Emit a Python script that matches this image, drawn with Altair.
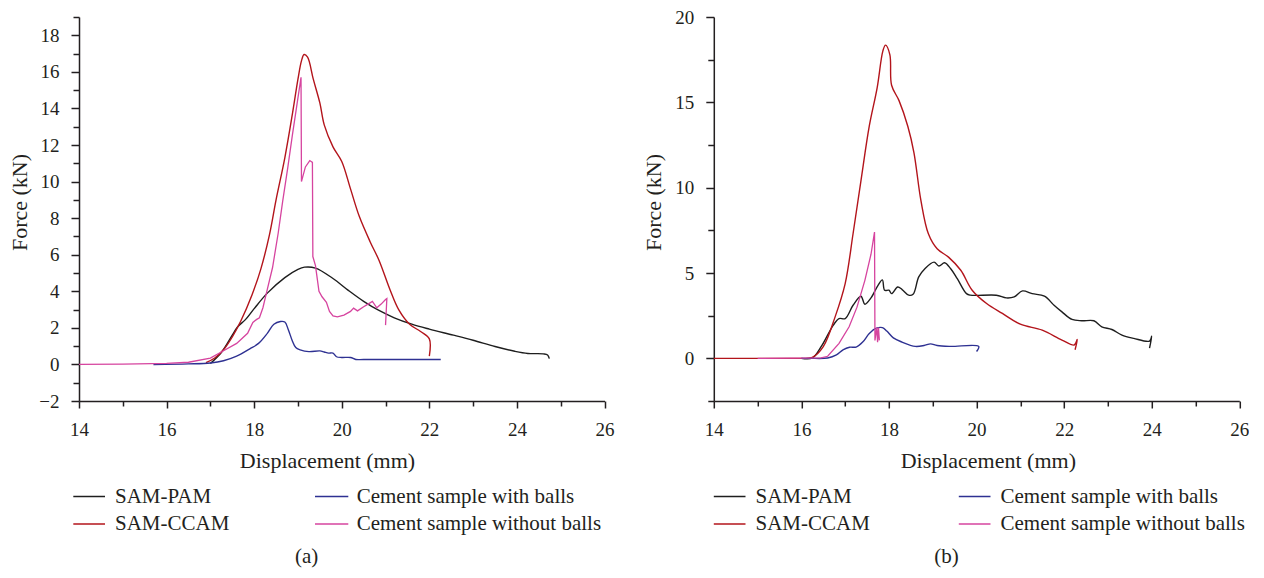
import altair as alt
import pandas as pd

SERIES = ["SAM-PAM", "SAM-CCAM", "Cement sample with balls", "Cement sample without balls"]
COLORS = ["#1e1e1e", "#b3141b", "#2e3192", "#d6449f"]
SMOOTH = ["SAM-PAM", "SAM-CCAM", "Cement sample with balls"]

# ---------- panel (a) ----------
A_PAM_X = [17.0, 17.25, 17.5, 17.62, 17.8, 18.0, 18.3, 18.7, 19.0, 19.15, 19.4, 19.8, 20.15, 20.5,
           20.85, 21.2, 21.6, 22.0, 22.55, 23.0, 23.5, 23.95, 24.25, 24.6, 24.7, 24.74]
A_PAM_Y = [0.05, 0.65, 1.6, 2.05, 2.45, 3.05, 3.9, 4.75, 5.2, 5.32, 5.27, 4.7, 4.05, 3.45,
           2.95, 2.55, 2.2, 1.93, 1.6, 1.32, 0.98, 0.72, 0.6, 0.58, 0.52, 0.32]

A_CCAM_X = [16.9, 17.1, 17.3, 17.5, 17.7, 17.95, 18.15, 18.35, 18.5, 18.7, 18.88, 19.0, 19.08, 19.14,
            19.22, 19.35, 19.5, 19.6, 19.8, 20.0, 20.2, 20.4, 20.65, 20.85, 21.1, 21.3, 21.55, 21.8,
            22.0, 22.0]
A_CCAM_Y = [0.1, 0.35, 0.8, 1.5, 2.4, 3.8, 5.2, 7.1, 9.0, 11.3, 13.8, 15.6, 16.6, 16.95,
            16.8, 15.6, 14.3, 13.1, 11.9, 11.1, 9.6, 8.1, 6.7, 5.7, 4.1, 3.0, 2.2, 1.8,
            1.4, 0.45]

A_W_X = [15.7, 16.5, 17.0, 17.3, 17.6, 17.9, 18.1, 18.3, 18.45, 18.6, 18.7, 18.78, 18.87, 18.95,
         19.05, 19.25, 19.5, 19.6, 19.7, 19.8, 19.88, 20.0, 20.2, 20.32, 20.5, 22.26]
A_W_Y = [0.0, 0.03, 0.08, 0.2, 0.45, 0.85, 1.15, 1.7, 2.2, 2.35, 2.32, 1.9, 1.3, 0.92,
         0.8, 0.7, 0.74, 0.68, 0.62, 0.62, 0.42, 0.38, 0.38, 0.27, 0.27, 0.27]

A_WO_X = [14.0, 15.0, 16.0, 16.5, 17.0, 17.3, 17.6, 17.85, 17.97, 18.05, 18.12, 18.2, 18.3, 18.42,
          18.55, 18.65, 18.77, 18.87, 18.97, 19.07, 19.08, 19.17, 19.27, 19.33, 19.34, 19.4, 19.48,
          19.55, 19.65, 19.72, 19.8, 19.9, 20.05, 20.2, 20.27, 20.36, 20.5, 20.6, 20.7, 20.8, 20.9,
          21.0, 21.03, 21.0]
A_WO_Y = [0.0, 0.02, 0.06, 0.12, 0.35, 0.75, 1.15, 1.7, 2.3, 2.45, 2.55, 3.1, 4.1, 5.3,
          7.2, 8.9, 10.8, 12.5, 14.1, 15.7, 10.0, 10.8, 11.15, 11.05, 5.9, 5.4, 4.0,
          3.7, 3.4, 2.9, 2.65, 2.6, 2.7, 2.9, 3.08, 2.93, 3.15, 3.3, 3.45, 3.1, 3.3,
          3.55, 3.6, 2.15]

# ---------- panel (b) ----------
B_PAM_X = [16.0, 16.25, 16.45, 16.73, 16.86, 17.0, 17.18, 17.36, 17.45, 17.59, 17.75, 17.85, 17.9, 18.0,
           18.06, 18.2, 18.3, 18.45, 18.55, 18.68, 18.82, 19.03, 19.14, 19.27, 19.41, 19.56, 19.77,
           19.86, 20.45, 20.68, 20.86, 21.05, 21.27, 21.55, 21.77, 21.95, 22.18, 22.4, 22.68, 22.86,
           23.09, 23.32, 23.59, 23.95, 24.0, 23.95]
B_PAM_Y = [0.0, 0.02, 0.68, 1.95, 2.33, 2.33, 3.11, 3.64, 3.17, 3.54, 4.28, 4.6, 3.99, 3.99,
           3.79, 4.18, 4.03, 3.7, 3.75, 4.77, 5.25, 5.64, 5.41, 5.6, 5.25, 4.67, 3.79,
           3.7, 3.7, 3.54, 3.6, 3.95, 3.79, 3.64, 3.11, 2.72, 2.28, 2.2, 2.2, 1.85,
           1.69, 1.36, 1.17, 1.01, 1.3, 0.6]

B_CCAM_X = [14.0, 14.5, 15.0, 15.5, 15.9, 16.1, 16.25, 16.5, 16.77, 17.0, 17.18, 17.36, 17.55, 17.73,
            17.86, 17.92, 18.02, 18.06, 18.23, 18.43, 18.57, 18.73, 18.9, 19.1, 19.36, 19.64, 19.9,
            20.23, 20.59, 21.0, 21.5, 21.95, 22.23, 22.3, 22.25]
B_CCAM_Y = [0.0, 0.0, 0.0, 0.0, 0.0, 0.0, 0.05, 0.68, 2.43, 4.38, 7.3, 10.4, 13.6, 15.85,
            18.0, 18.35, 17.8, 16.0, 15.1, 13.6, 12.06, 9.24, 7.3, 6.42, 5.93, 5.16, 3.99,
            3.21, 2.63, 2.0, 1.65, 1.07, 0.78, 1.1, 0.5]

B_W_X = [16.0, 16.2, 16.6, 16.8, 16.95, 17.1, 17.25, 17.4, 17.55, 17.7, 17.85, 17.95, 18.1, 18.3, 18.6,
         18.8, 18.95, 19.1, 19.4, 20.05, 20.0]
B_W_Y = [0.0, 0.0, 0.02, 0.2, 0.5, 0.65, 0.66, 0.95, 1.45, 1.75, 1.8, 1.6, 1.2, 0.95, 0.7,
         0.75, 0.85, 0.75, 0.7, 0.7, 0.4]

B_WO_X = [15.0, 16.45, 16.6, 16.86, 17.09, 17.27, 17.45, 17.59, 17.67, 17.68, 17.72, 17.74, 17.76, 17.78]
B_WO_Y = [0.0, 0.03, 0.12, 0.88, 1.85, 3.0, 4.57, 6.1, 7.4, 1.05, 1.8, 0.95, 1.8, 1.05]

X_TICKS = list(range(14, 27))
A_Y_TICKS = list(range(-2, 20))
B_Y_TICKS = [-2.5, 0, 2.5, 5, 7.5, 10, 12.5, 15, 17.5, 20]

FONT = "Liberation Serif"
TXT = "#231f20"
W = 525.5
H = 384


def frame(xs_list, ys_list):
    rows = []
    for name, xs, ys in zip(SERIES, xs_list, ys_list):
        for i, (x, y) in enumerate(zip(xs, ys)):
            rows.append({"series": name, "x": x, "y": y, "i": i})
    return pd.DataFrame(rows)


def panel(df, ydom, yticks, ymod, title_x, leg, caption, cap_x):
    x_axis = alt.Axis(
        values=X_TICKS, format="d",
        labelExpr="datum.value % 2 === 0 ? datum.label : ''",
        tickSize={"condition": {"test": "datum.value % 2 === 0", "value": 7}, "value": 5},
        labelFlush=False, labelOverlap=False, labelPadding=12,
        title="Displacement (mm)", titleX=title_x, titleY=66,
        titleBaseline="alphabetic", titleAlign="center", grid=False,
    )
    y_axis = alt.Axis(
        values=yticks, format="d",
        labelExpr=f"datum.value % {ymod} === 0 ? datum.label : ''",
        tickSize={"condition": {"test": f"datum.value % {ymod} === 0", "value": 8}, "value": 6},
        labelFlush=False, labelOverlap=False, labelPadding=12,
        title="Force (kN)", titleX=-53, titleY=185, titleAlign="center",
        titleBaseline="alphabetic", grid=False,
    )
    xenc = alt.X("x:Q", scale=alt.Scale(domain=[14, 26], nice=False, zero=False), axis=x_axis)
    yenc = alt.Y("y:Q", scale=alt.Scale(domain=ydom, nice=False, zero=False), axis=y_axis)
    cenc = alt.Color("series:N", scale=alt.Scale(domain=SERIES, range=COLORS), legend=None)
    smooth = alt.Chart(df[df["series"].isin(SMOOTH)]).mark_line(
        strokeWidth=1.4, interpolate="catmull-rom", clip=False
    ).encode(x=xenc, y=yenc, color=cenc, order=alt.Order("i:Q"))
    sharp = alt.Chart(df[~df["series"].isin(SMOOTH)]).mark_line(
        strokeWidth=1.3, clip=False
    ).encode(x=xenc, y=yenc, color=cenc, order=alt.Order("i:Q"))
    layers = [smooth, sharp]
    pos = {0: (0, 0), 1: (0, 1), 2: (1, 0), 3: (1, 1)}
    for k, name in enumerate(SERIES):
        c, r = pos[k]
        sx0, sx1, tx = leg[c]
        sy = H + (95.5 if r == 0 else 123)
        ty = H + (101.5 if r == 0 else 129)
        layers.append(
            alt.Chart(alt.Data(values=[{}])).mark_rule(strokeWidth=1.5, color=COLORS[k]).encode(
                x=alt.value(sx0), x2=alt.value(sx1), y=alt.value(sy)
            )
        )
        layers.append(
            alt.Chart(alt.Data(values=[{}])).mark_text(
                text=name, align="left", baseline="alphabetic", font=FONT, fontSize=21, color=TXT
            ).encode(x=alt.value(tx), y=alt.value(ty))
        )
    layers.append(
        alt.Chart(alt.Data(values=[{}])).mark_text(
            text=caption, align="center", baseline="alphabetic", font=FONT, fontSize=21, color=TXT
        ).encode(x=alt.value(cap_x), y=alt.value(H + 162))
    )
    return alt.layer(*layers).properties(width=W, height=H)


df_a = frame([A_PAM_X, A_CCAM_X, A_W_X, A_WO_X], [A_PAM_Y, A_CCAM_Y, A_W_Y, A_WO_Y])
df_b = frame([B_PAM_X, B_CCAM_X, B_W_X, B_WO_X], [B_PAM_Y, B_CCAM_Y, B_W_Y, B_WO_Y])

pa = panel(df_a, [-2, 19], A_Y_TICKS, 2, 248,
           {0: (-5.7, 26, 36), 1: (236, 269.3, 277.7)}, "(a)", 227.7)
pb = panel(df_b, [-2.5, 20], B_Y_TICKS, 5, 274,
           {0: (0, 31.7, 41.7), 1: (245, 276.7, 286.7)}, "(b)", 232.7)

chart = alt.hconcat(pa, pb, spacing=108.8, bounds="flush").properties(
    padding={"left": 0, "top": 0, "right": 0, "bottom": 2}
).configure_view(stroke=None).configure_axis(
    domainColor="#231f20", domainWidth=1.5, tickColor="#231f20", tickWidth=1.5,
    labelFont=FONT, labelFontSize=19, labelColor=TXT,
    titleFont=FONT, titleFontSize=22, titleColor=TXT, titleFontWeight="normal",
)

chart.save("out.html", embed_options={"renderer": "svg", "actions": False})
